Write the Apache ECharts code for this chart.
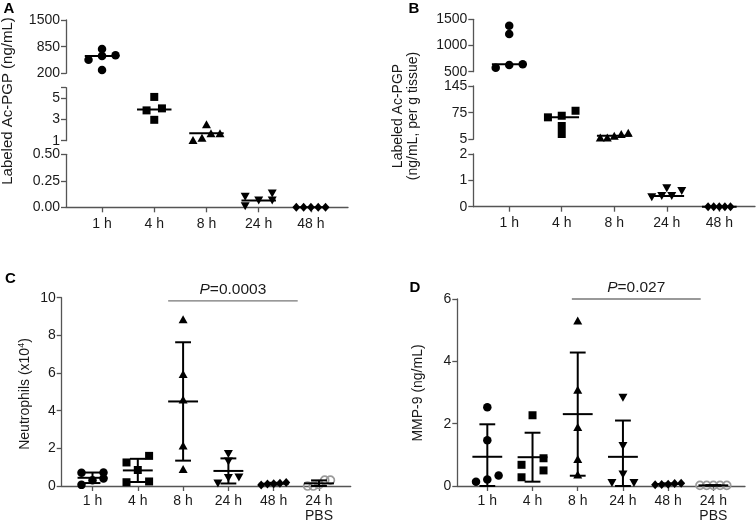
<!DOCTYPE html>
<html><head><meta charset="utf-8">
<script src="https://cdn.jsdelivr.net/npm/echarts@6/dist/echarts.min.js"></script>
<style>html,body{margin:0;padding:0;background:#fff}#c{width:756px;height:524px}</style>
</head><body><div id="c"></div>
<script>
// ---------------- DATA ----------------
const catsAB = ['1 h', '4 h', '8 h', '24 h', '48 h'];
const catsCD = ['1 h', '4 h', '8 h', '24 h', '48 h', '24 h\nPBS'];

// Panel A: Labeled Ac-PGP (ng/mL)
const A_1h  = [792, 639, 530, 625, 280];
const A_4h  = [5.13, 4.05, 3.86, 2.97];
const A_8h  = [1.07, 1.70, 2.56, 1.29, 1.70];
const A_24h = [0.10, 0.01, 0.065, 0.13, 0.065];
const A_48h = [0, 0, 0, 0, 0];

// Panel B: Labeled Ac-PGP (ng/mL, per g tissue)
const B_1h  = [1378, 1219, 576, 641, 628];
const B_4h  = [66.9, 80, 39.9, 18.9, 62.7];
const B_8h  = [10, 22, 14, 19, 10];
const B_24h = [0.70, 0.36, 0.60, 0.41, 0.41];
const B_48h = [0, 0, 0, 0, 0];

// Panel C: Neutrophils (x10^4)
const C_1h  = [0.72, 0.70, 0.06, 0.30, 0.40];
const C_4h  = [1.60, 1.25, 0.85, 0.20, 0.24];
const C_8h  = [8.85, 5.95, 4.60, 2.15, 0.90];
const C_24h = [1.70, 1.30, 0.45, 0.42, 0.13];
const C_48h = [0.15, 0.18, 0.12, 0.10, 0.05];
const C_PBS = [0.08, 0.31, 0.00, 0.31, 0.00];

// Panel D: MMP-9 (ng/mL)
const D_1h  = [2.53, 1.47, 0.34, 0.14, 0.21];
const D_4h  = [2.27, 0.89, 0.68, 0.50, 0.28];
const D_8h  = [5.31, 3.09, 1.89, 0.87, 0.37];
const D_24h = [2.83, 1.28, 0.37, 0.10, 0.10];
const D_48h = [0.06, 0.09, 0.04, 0.08, 0.05];
const D_PBS = [0.02, 0.02, 0.02, 0.02, 0.02];

// Broken-axis segments: ranges and tick values
const A_segRange = [[200, 1500], [1, 6], [0, 0.5]];
const A_segTicks = [[200, 850, 1500], [1, 3, 5, 6], [0, 0.25, 0.5]];
const A_segLabels = [[200, 850, 1500], [1, 3, 5], [0, 0.25, 0.5]];
const B_segRange = [[500, 1500], [5, 145], [0, 2]];
const B_segTicks = [[500, 1000, 1500], [5, 75, 145], [0, 1, 2]];
const C_range = [0, 10];
const C_ticks = [0, 2, 4, 6, 8, 10];
const D_range = [0, 6];
const D_ticks = [0, 2, 4, 6];

// significance annotations [from, to, level]
const C_pBar = [1.67, 4.53, 9.83];
const C_pText = '0.0003';
const D_pBar = [1.87, 4.72, 6.0];
const D_pText = '0.027';

// ---------------- STYLE / LAYOUT ----------------
const FONT = '"Liberation Sans", Arial, Helvetica, sans-serif';
const AXIS = '#555';
const TXT = '#1a1a1a';
const SYM = {
  circle:  { symbol: 'circle', size: 8.5, color: '#000' },
  square:  { symbol: 'rect', size: 8, color: '#000' },
  tri:     { symbol: 'triangle', size: [9, 8], color: '#000' },
  invtri:  { symbol: 'triangle', size: [9, 8], color: '#000', rotate: 180 },
  diamond: { symbol: 'diamond', size: [8, 9], color: '#000' },
  hollow:  { symbol: 'circle', size: 8, color: 'rgba(0,0,0,0)', border: '#9a9a9a', bw: 1.7 }
};

const PANELS = [
  { cats: catsAB, groups: [A_1h, A_4h, A_8h, A_24h, A_48h],
    symbols: ['circle', 'square', 'tri', 'invtri', 'diamond'], spacing: [13.5, 7.7, 9, 13.5, 7.3],
    stat: 'median', x0: 66, x1: 348, xRange: [-0.69, 4.71], xMargin: 9,
    segs: [
      { top: 20, bottom: 73.3, range: A_segRange[0], ticks: A_segTicks[0], labels: A_segLabels[0] },
      { top: 87.7, bottom: 140.7, range: A_segRange[1], ticks: A_segTicks[1], labels: A_segLabels[1] },
      { top: 154.3, bottom: 207.3, range: A_segRange[2], ticks: A_segTicks[2], labels: A_segLabels[2], fmt: v => v.toFixed(2) }
    ] },
  { cats: catsAB, groups: [B_1h, B_4h, B_8h, B_24h, B_48h],
    symbols: ['circle', 'square', 'tri', 'invtri', 'diamond'], spacing: [13.5, 13.8, 7, 10, 5.6],
    stat: 'median', x0: 473.3, x1: 755, xRange: [-0.684, 4.68], xMargin: 9,
    segs: [
      { top: 19.3, bottom: 71.7, range: B_segRange[0], ticks: B_segTicks[0], labels: B_segTicks[0] },
      { top: 86, bottom: 139.3, range: B_segRange[1], ticks: B_segTicks[1], labels: B_segTicks[1] },
      { top: 154, bottom: 206.7, range: B_segRange[2], ticks: B_segTicks[2], labels: B_segTicks[2] }
    ] },
  { cats: catsCD, groups: [C_1h, C_4h, C_8h, C_24h, C_48h, C_PBS],
    symbols: ['circle', 'square', 'tri', 'invtri', 'diamond', 'hollow'], spacing: [11, 11.3, 9, 10.5, 6.25, 5.7],
    stat: 'meansd', x0: 61.7, x1: 350.7, xRange: [-0.68, 5.70], xMargin: 8,
    pBar: C_pBar, pText: C_pText,
    segs: [{ top: 297.7, bottom: 489.3, range: C_range, ticks: C_ticks, labels: C_ticks }] },
  { cats: catsCD, groups: [D_1h, D_4h, D_8h, D_24h, D_48h, D_PBS],
    symbols: ['circle', 'square', 'tri', 'invtri', 'diamond', 'hollow'], spacing: [11.3, 11, 9, 11, 6.5, 6.7],
    stat: 'meansd', x0: 457.3, x1: 745, xRange: [-0.664, 5.70], xMargin: 8,
    pBar: D_pBar, pText: D_pText,
    segs: [{ top: 299, bottom: 490, range: D_range, ticks: D_ticks, labels: D_ticks }] }
];

// ---------------- HELPERS ----------------
function median(a) { const s = [...a].sort((x, y) => x - y); const n = s.length; return n % 2 ? s[(n - 1) / 2] : (s[n / 2 - 1] + s[n / 2]) / 2; }
function mean(a) { return a.reduce((s, v) => s + v, 0) / a.length; }
function sd(a) { const m = mean(a); return Math.sqrt(a.reduce((s, v) => s + (v - m) * (v - m), 0) / (a.length - 1)); }
function segOf(p, v) {
  for (let i = p.segs.length - 1; i >= 0; i--) { const r = p.segs[i].range; if (v >= r[0] && v <= r[1]) return i; }
  let best = 0, bd = Infinity;
  p.segs.forEach((s, i) => { const d = Math.min(Math.abs(v - s.range[0]), Math.abs(v - s.range[1])); if (d < bd) { bd = d; best = i; } });
  return best;
}
// GraphPad-like column scatter: points whose pixel rows overlap are spread sideways
function swarm(vals, pyFn, spacing, thresh) {
  const items = vals.map((v, i) => ({ v, i, py: pyFn(v) }));
  items.sort((a, b) => a.v - b.v);
  const groups = []; let cur = null;
  items.forEach(it => {
    if (cur && Math.abs(it.py - cur[0].py) < thresh) cur.push(it);
    else { cur = [it]; groups.push(cur); }
  });
  const off = new Array(vals.length).fill(0);
  groups.forEach(g => {
    const n = g.length;
    g.forEach((it, k) => { off[it.i] = n === 2 ? (k === 0 ? -1 : 1) * spacing : (k - (n - 1) / 2) * spacing; });
  });
  return off;
}

// ---------------- AXES ----------------
const chart = echarts.init(document.getElementById('c'), null, { renderer: 'canvas', width: 756, height: 524 });
const grids = [], xAxes = [], yAxes = [];
const lineStyle = { color: AXIS, width: 1.3 };
PANELS.forEach(p => {
  p.gridIdx = [];
  const catIdx = p.cats.map((c, i) => i);
  p.segs.forEach((s, si) => {
    const gi = grids.length;
    p.gridIdx.push(gi);
    const isBottom = si === p.segs.length - 1;
    grids.push({ left: p.x0, top: s.top, width: p.x1 - p.x0, height: s.bottom - s.top, containLabel: false });
    xAxes.push({
      type: 'value', gridIndex: gi, min: p.xRange[0], max: p.xRange[1], show: isBottom,
      axisLine: { show: true, onZero: false, lineStyle },
      axisTick: { show: true, length: 5, customValues: catIdx, lineStyle },
      axisLabel: { show: true, customValues: catIdx, formatter: v => p.cats[Math.round(v)],
        fontSize: 14, color: TXT, fontFamily: FONT, margin: p.xMargin, lineHeight: 15 },
      splitLine: { show: false }
    });
    yAxes.push({
      type: 'value', gridIndex: gi, min: s.range[0], max: s.range[1],
      axisLine: { show: true, onZero: false, lineStyle },
      axisTick: { show: true, length: 5, customValues: s.ticks, lineStyle },
      axisLabel: { show: true, customValues: s.labels, formatter: s.fmt || (v => String(v)),
        fontSize: 14, color: TXT, fontFamily: FONT, margin: 6 },
      splitLine: { show: false }
    });
  });
});
chart.setOption({ animation: false, grid: grids, xAxis: xAxes, yAxis: yAxes });

// ---------------- SERIES ----------------
function statRender(withErr, halfW, capW) {
  return function (params, api) {
    const x = api.value(0), c = api.value(1), lo = api.value(2), hi = api.value(3);
    const ymin = yAxes[params.seriesIndex >= 0 ? 0 : 0].min;
    const st = { stroke: '#000', lineWidth: 2 };
    const ch = [];
    const a = api.coord([x - halfW, c]), b = api.coord([x + halfW, c]);
    ch.push({ type: 'line', shape: { x1: a[0], y1: a[1], x2: b[0], y2: b[1] }, style: st });
    if (withErr) {
      const t = api.coord([x, hi]), u = api.coord([x, lo]);
      ch.push({ type: 'line', shape: { x1: t[0], y1: t[1], x2: u[0], y2: u[1] }, style: st });
      const t1 = api.coord([x - capW, hi]), t2 = api.coord([x + capW, hi]);
      ch.push({ type: 'line', shape: { x1: t1[0], y1: t1[1], x2: t2[0], y2: t2[1] }, style: st });
      const u1 = api.coord([x - capW, lo]), u2 = api.coord([x + capW, lo]);
      ch.push({ type: 'line', shape: { x1: u1[0], y1: u1[1], x2: u2[0], y2: u2[1] }, style: st });
    }
    return { type: 'group', children: ch };
  };
}
function pRender(label) {
  return function (params, api) {
    const a = api.coord([api.value(0), api.value(2)]), b = api.coord([api.value(1), api.value(2)]);
    const tok = { fontSize: 15.5, fontFamily: FONT, fill: TXT };
    return { type: 'group', children: [
      { type: 'line', shape: { x1: a[0], y1: a[1], x2: b[0], y2: b[1] }, style: { stroke: '#777', lineWidth: 1.3 } },
      { type: 'text', x: (a[0] + b[0]) / 2, y: a[1] - 3, style: {
        text: '{i|P}{n|=' + label + '}', textAlign: 'center', textVerticalAlign: 'bottom',
        fontSize: 15.5, fontFamily: FONT, fill: TXT,
        rich: { i: Object.assign({ fontStyle: 'italic' }, tok), n: tok } } }
    ] };
  };
}

const series = [];
PANELS.forEach(p => {
  const g0 = p.gridIdx[0];
  const pxu = chart.convertToPixel({ gridIndex: g0 }, [1, 0])[0] - chart.convertToPixel({ gridIndex: g0 }, [0, 0])[0];
  const pyFn = v => chart.convertToPixel({ gridIndex: p.gridIdx[segOf(p, v)] }, [0, v])[1];
  const statRows = p.segs.map(() => []);
  p.groups.forEach((vals, gi) => {
    const off = swarm(vals, pyFn, p.spacing[gi], 7.5);
    const sym = SYM[p.symbols[gi]];
    p.segs.forEach((s, si) => {
      const pts = [];
      vals.forEach((v, k) => { if (segOf(p, v) === si) pts.push([gi + off[k] / pxu, v]); });
      if (pts.length) series.push({
        type: 'scatter', xAxisIndex: p.gridIdx[si], yAxisIndex: p.gridIdx[si], data: pts,
        symbol: sym.symbol, symbolSize: sym.size, symbolRotate: sym.rotate || 0,
        itemStyle: { color: sym.color, borderColor: sym.border || sym.color, borderWidth: sym.bw || 0, opacity: 1 },
        z: 3, silent: true, animation: false
      });
    });
    if (p.stat === 'median') {
      const m = median(vals);
      statRows[segOf(p, m)].push([gi, m, m, m]);
    } else {
      const m = mean(vals), d = sd(vals);
      statRows[0].push([gi, m, Math.max(m - d, p.segs[0].range[0]), m + d]);
    }
  });
  statRows.forEach((rows, si) => {
    if (!rows.length) return;
    series.push({
      type: 'custom', xAxisIndex: p.gridIdx[si], yAxisIndex: p.gridIdx[si], data: rows,
      encode: { x: 0, y: [1, 2, 3] }, renderItem: statRender(p.stat !== 'median', 0.33, 0.175),
      z: 5, silent: true, animation: false, clip: false
    });
  });
  if (p.pBar) {
    series.push({
      type: 'custom', xAxisIndex: g0, yAxisIndex: g0, data: [p.pBar],
      encode: { x: [0, 1], y: 2 }, renderItem: pRender(p.pText), z: 6, silent: true, animation: false, clip: false
    });
  }
});

// ---------------- TEXT ----------------
const rot = Math.PI / 2;
const titleStyle = (text, size) => ({ text, fontSize: size, fontFamily: FONT, fill: TXT, textAlign: 'center', textVerticalAlign: 'middle', lineHeight: 15 });
const letter = (t, x, y) => ({ type: 'text', x, y, silent: true, style: { text: t, font: 'bold 15px ' + FONT, fill: '#000', textAlign: 'center', textVerticalAlign: 'middle' } });
const supTok = { fontSize: 14, fontFamily: FONT, fill: TXT, lineHeight: 16 };
const graphic = [
  letter('A', 8.8, 8.7), letter('B', 414, 9), letter('C', 10.3, 278.5), letter('D', 415, 288),
  { type: 'text', x: 7.5, y: 101, rotation: rot, silent: true, style: titleStyle('Labeled Ac-PGP (ng/mL)', 15) },
  { type: 'text', x: 406, y: 116, rotation: rot, silent: true, style: titleStyle('Labeled Ac-PGP\n(ng/mL, per g tissue)', 14) },
  { type: 'text', x: 25, y: 394, rotation: rot, silent: true, style: {
      text: '{a|Neutrophils (x10}{s|4}{a|)}', textAlign: 'center', textVerticalAlign: 'middle',
      fontSize: 14, fontFamily: FONT, fill: TXT,
      rich: { a: supTok, s: { fontSize: 9, fontFamily: FONT, fill: TXT, lineHeight: 9, verticalAlign: 'top' } } } },
  { type: 'text', x: 418.5, y: 393, rotation: rot, silent: true, style: titleStyle('MMP-9 (ng/mL)', 14) }
];

chart.setOption({ series, graphic });
</script></body></html>
